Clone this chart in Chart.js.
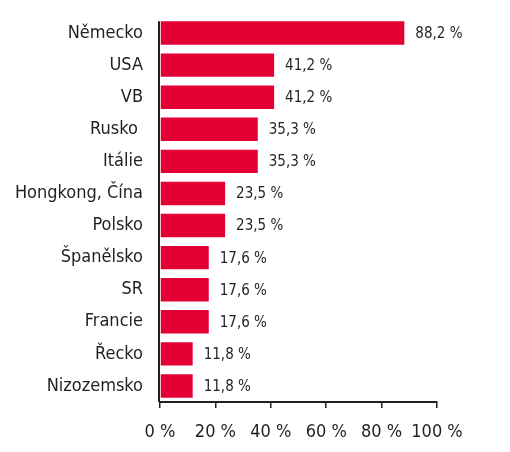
<!DOCTYPE html>
<html><head><meta charset="utf-8">
<script src="https://cdn.jsdelivr.net/npm/chart.js@4"></script>
<style>html,body{margin:0;padding:0;background:#fff}#c{display:block}</style>
</head><body>
<canvas id="c" width="510" height="452"></canvas>
<script>
const categories = ["Německo","USA","VB","Rusko ","Itálie","Hongkong, Čína","Polsko","Španělsko","SR","Francie","Řecko","Nizozemsko"];
const values = [88.2,41.2,41.2,35.3,35.3,23.5,23.5,17.6,17.6,17.6,11.8,11.8];
const tickValues = [0,20,40,60,80,100];

const FONT = "'Liberation Sans Narrow','Arial Narrow','DejaVu Sans Condensed',sans-serif";
const TEXT = "#231f20";

const valueLabels = {
  id: 'valueLabels',
  afterDatasetsDraw(chart) {
    const ctx = chart.ctx;
    const meta = chart.getDatasetMeta(0);
    ctx.save();
    // vertical axis line, from top of first bar down to the x axis
    const first = meta.data[0];
    const x0 = chart.scales.x.getPixelForValue(0);
    ctx.strokeStyle = TEXT;
    ctx.lineWidth = 2;
    ctx.beginPath();
    ctx.moveTo(x0 - 1, first.y - first.height / 2);
    ctx.lineTo(x0 - 1, chart.chartArea.bottom);
    ctx.stroke();
    ctx.font = "15px " + FONT;
    ctx.fillStyle = TEXT;
    ctx.textAlign = 'left';
    ctx.textBaseline = 'middle';
    meta.data.forEach((bar, i) => {
      const txt = values[i].toFixed(1).replace('.', ',') + ' %';
      ctx.fillText(txt, bar.x + 11, bar.y + 1);
    });
    ctx.restore();
  }
};

new Chart(document.getElementById('c'), {
  type: 'bar',
  data: {
    labels: categories,
    datasets: [{
      data: values,
      backgroundColor: '#e30034',
      borderWidth: 0,
      barPercentage: 0.73,
      categoryPercentage: 1.0
    }]
  },
  options: {
    indexAxis: 'y',
    responsive: false,
    animation: false,
    devicePixelRatio: 1,
    layout: { padding: { top: 17, right: 73, bottom: 0, left: 0 } },
    plugins: { legend: { display: false }, tooltip: { enabled: false } },
    scales: {
      x: {
        min: 0, max: 100,
        afterBuildTicks(scale) { scale.ticks = tickValues.map(v => ({ value: v })); },
        afterFit(scale) { scale.height = 50; },
        grid: { display: true, drawOnChartArea: false, drawTicks: true, tickLength: 6, color: TEXT, lineWidth: 1.5 },
        border: { display: true, color: TEXT, width: 2 },
        ticks: {
          padding: 14,
          color: TEXT,
          maxRotation: 0, minRotation: 0,
          font: { family: FONT, size: 18 },
          callback: v => v + ' %'
        }
      },
      y: {
        afterFit(scale) { scale.width = 160; scale.paddingTop = 0; scale.paddingBottom = 0; },
        grid: { display: false, drawTicks: false },
        border: { display: false },
        ticks: {
          padding: 17,
          color: TEXT,
          font: { family: FONT, size: 18 }
        }
      }
    }
  },
  plugins: [valueLabels]
});
</script>
</body></html>
